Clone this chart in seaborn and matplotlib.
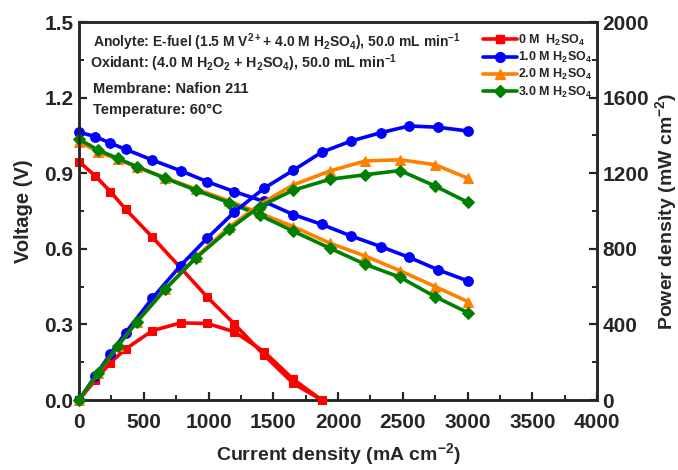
import matplotlib
matplotlib.use("Agg")
import matplotlib.pyplot as plt
from matplotlib.ticker import MultipleLocator
from matplotlib.lines import Line2D
import seaborn as sns
import pandas as pd

# ---- data ----
# 0 M H2SO4
i_0m = [0, 126, 243, 360, 567, 784, 991, 1199, 1428, 1654, 1874]
v_0m = [0.946, 0.889, 0.827, 0.757, 0.646, 0.525, 0.408, 0.302, 0.179, 0.066, 0.0]
p_0m = [0, 105, 198, 270, 367, 408, 405, 361, 256, 110, 0]

# 1.0 M H2SO4
i_1m = [0, 126, 243, 360, 567, 784, 991, 1199, 1428, 1654, 1874, 2100, 2329, 2550, 2776, 3005]
v_1m = [1.063, 1.045, 1.019, 0.995, 0.952, 0.910, 0.866, 0.827, 0.788, 0.736, 0.697, 0.651, 0.609, 0.566, 0.516, 0.472]
p_1m = [0, 128, 245, 356, 539, 711, 857, 994, 1120, 1215, 1311, 1370, 1414, 1450, 1443, 1423]

# 2.0 M H2SO4
i_2m = [0, 147, 298, 446, 666, 900, 1160, 1394, 1654, 1939, 2212, 2480, 2750, 3005]
v_2m = [1.025, 0.985, 0.955, 0.925, 0.882, 0.838, 0.790, 0.742, 0.688, 0.622, 0.571, 0.513, 0.450, 0.390]
p_2m = [0, 142, 284, 412, 586, 754, 915, 1034, 1138, 1212, 1265, 1271, 1245, 1173]

# 3.0 M H2SO4
i_3m = [0, 147, 298, 446, 666, 900, 1160, 1394, 1654, 1939, 2212, 2480, 2750, 3005]
v_3m = [1.035, 0.992, 0.959, 0.926, 0.880, 0.833, 0.783, 0.734, 0.670, 0.602, 0.538, 0.487, 0.410, 0.346]
p_3m = [0, 144, 284, 413, 586, 750, 903, 1023, 1110, 1168, 1192, 1214, 1132, 1045]

labels = ["0 M  H$_2$SO$_4$", "1.0 M H$_2$SO$_4$", "2.0 M H$_2$SO$_4$", "3.0 M H$_2$SO$_4$"]
colors = ["#FF0000", "#0000FF", "#FF8000", "#008000"]
markers = ["s", "o", "^", "D"]
msizes = [6, 7, 7, 6]

x_ticks = [0, 500, 1000, 1500, 2000, 2500, 3000, 3500, 4000]
v_ticks = [0.0, 0.3, 0.6, 0.9, 1.2, 1.5]
p_ticks = [0, 400, 800, 1200, 1600, 2000]

series = [(i_0m, v_0m, p_0m), (i_1m, v_1m, p_1m), (i_2m, v_2m, p_2m), (i_3m, v_3m, p_3m)]

sns.set_style("ticks")
plt.rcParams["font.family"] = ["Liberation Sans", "DejaVu Sans"]
plt.rcParams["font.weight"] = "bold"
plt.rcParams["mathtext.default"] = "regular"

fig = plt.figure(figsize=(6.78, 4.70), dpi=100)
ax = fig.add_axes([79 / 678, 70 / 470, 518 / 678, 378 / 470])
ax2 = ax.twinx()

for (cur, volt, powr), lab, c, m, ms in zip(series, labels, colors, markers, msizes):
    df = pd.DataFrame({"I": cur, "V": volt, "P": powr})
    sns.lineplot(data=df, x="I", y="V", ax=ax, color=c, marker=m, markersize=ms,
                 markeredgecolor=c, linewidth=2.6, sort=False, clip_on=False, zorder=3)
    sns.lineplot(data=df, x="I", y="P", ax=ax2, color=c, marker=m, markersize=ms,
                 markeredgecolor=c, linewidth=2.6, sort=False, clip_on=False, zorder=3)

ax.set_xlim(0, 4000)
ax.set_ylim(0, 1.5)
ax2.set_ylim(0, 2000)
ax.set_xticks(x_ticks)
ax.set_yticks(v_ticks)
ax2.set_yticks(p_ticks)
ax.set_yticklabels([f"{v:.1f}" for v in v_ticks])
ax.xaxis.set_minor_locator(MultipleLocator(250))
ax.yaxis.set_minor_locator(MultipleLocator(0.15))
ax2.yaxis.set_minor_locator(MultipleLocator(200))

for a in (ax, ax2):
    a.tick_params(which="major", direction="in", length=6, width=1.6, labelsize=15)
    a.tick_params(which="minor", direction="in", length=3.5, width=1.4)
    for sp in a.spines.values():
        sp.set_visible(True)
        sp.set_linewidth(1.8)
for lbl in ax.get_xticklabels() + ax.get_yticklabels() + ax2.get_yticklabels():
    lbl.set_fontweight("bold")
ax.tick_params(axis="x", pad=9)
ax.tick_params(axis="y", pad=4)
ax2.tick_params(axis="y", pad=4)

ax.set_xlabel("Current density (mA cm$^{-2}$)", fontsize=14, fontweight="bold", labelpad=7)
ax.set_ylabel("Voltage (V)", fontsize=14.5, fontweight="bold", labelpad=8)
ax2.set_ylabel("Power density (mW cm$^{-2}$)", fontsize=14, fontweight="bold", labelpad=3)

txt_kw = dict(transform=ax.transAxes, fontweight="bold", va="center", ha="left")
ax.text(0.027, 0.947, "Anolyte: E-fuel (1.5 M V$^{2+}$+ 4.0 M H$_2$SO$_4$), 50.0 mL min$^{-1}$",
        fontsize=10, **txt_kw)
ax.text(0.022, 0.892, "Oxidant: (4.0 M H$_2$O$_2$ + H$_2$SO$_4$), 50.0 mL min$^{-1}$",
        fontsize=10.3, **txt_kw)
ax.text(0.027, 0.823, "Membrane: Nafion 211", fontsize=10.5, **txt_kw)
ax.text(0.027, 0.767, "Temperature: 60\u00b0C", fontsize=10.5, **txt_kw)

handles = [Line2D([0], [0], color=c, marker=m, markersize=ms, linewidth=2.6)
           for c, m, ms in zip(colors, markers, msizes)]
leg = ax.legend(handles, labels, loc="upper left", bbox_to_anchor=(0.77, 0.985), frameon=False,
                fontsize=9, handlelength=2.7, handletextpad=0.15, labelspacing=0.18,
                borderaxespad=0.0)
for t in leg.get_texts():
    t.set_fontweight("bold")

fig.savefig("out.png", dpi=100)
